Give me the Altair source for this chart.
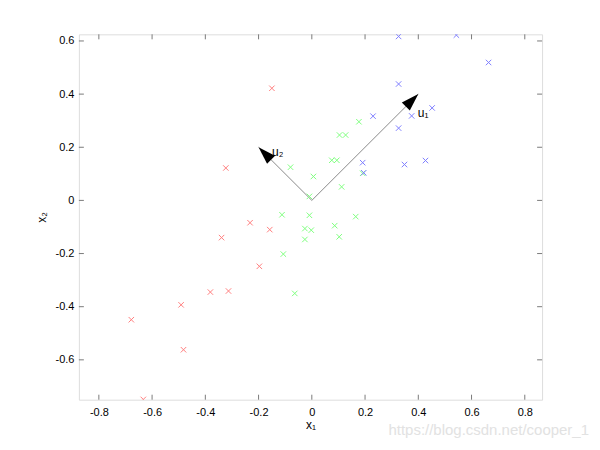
import altair as alt
import pandas as pd

# ---- data ----
red_x = [-0.150, -0.323, -0.232, -0.158, -0.339, -0.197, -0.381, -0.313, -0.491, -0.678, -0.482, -0.633]
red_y = [0.422, 0.122, -0.084, -0.110, -0.140, -0.248, -0.345, -0.341, -0.393, -0.449, -0.562, -0.749]

green_x = [-0.080, 0.006, -0.009, 0.112, 0.075, 0.094, 0.104, 0.127, 0.177, 0.191,
           -0.112, -0.009, -0.026, -0.002, -0.026, -0.107, -0.064, 0.086, 0.165, 0.103]
green_y = [0.125, 0.090, 0.015, 0.051, 0.151, 0.151, 0.246, 0.246, 0.296, 0.102,
           -0.054, -0.056, -0.106, -0.112, -0.147, -0.202, -0.350, -0.095, -0.061, -0.137]

blue_x = [0.326, 0.543, 0.664, 0.326, 0.452, 0.375, 0.230, 0.326, 0.191, 0.195, 0.348, 0.427]
blue_y = [0.617, 0.622, 0.519, 0.438, 0.348, 0.318, 0.317, 0.272, 0.142, 0.104, 0.135, 0.150]

vec_names = ["u1", "u2"]
vec_x = [0.40, -0.20]
vec_y = [0.40, 0.20]
vec_angle = [45, 315]
vec_label = ["u\u2081", "u\u2082"]
label_x = [0.418, -0.128]
label_y = [0.330, 0.182]

x_ticks = [-0.8, -0.6, -0.4, -0.2, 0.0, 0.2, 0.4, 0.6, 0.8]
y_ticks = [-0.6, -0.4, -0.2, 0.0, 0.2, 0.4, 0.6]

X_DOMAIN = [-0.875, 0.865]
Y_DOMAIN = [-0.75, 0.625]
W, H = 464, 366

pts = pd.concat([
    pd.DataFrame({"x": red_x, "y": red_y, "cls": "red"}),
    pd.DataFrame({"x": green_x, "y": green_y, "cls": "green"}),
    pd.DataFrame({"x": blue_x, "y": blue_y, "cls": "blue"}),
], ignore_index=True)

vecs = pd.DataFrame({"name": vec_names, "x0": 0.0, "y0": 0.0, "x": vec_x, "y": vec_y,
                     "angle": vec_angle, "label": vec_label, "lx": label_x, "ly": label_y})

FONT = "Liberation Sans"
lab_expr = "replace(format(datum.value, '~g'), '\u2212', '-')"

xs = alt.Scale(domain=X_DOMAIN, nice=False, zero=False)
ys = alt.Scale(domain=Y_DOMAIN, nice=False, zero=False)

x_axis = alt.Axis(values=x_ticks, ticks=False, domain=False, grid=False, labelExpr=lab_expr,
                  labelFont=FONT, labelFontSize=11, labelColor="black", labelPadding=7,
                  title="x\u2081", titleFont=FONT, titleFontSize=12, titleFontWeight="normal",
                  titleColor="black", titlePadding=2)
y_axis = alt.Axis(values=y_ticks, ticks=False, domain=False, grid=False, labelExpr=lab_expr,
                  labelFont=FONT, labelFontSize=11, labelColor="black", labelPadding=5,
                  title="x\u2082", titleFont=FONT, titleFontSize=12, titleFontWeight="normal",
                  titleColor="black", titlePadding=6)

points = alt.Chart(pts).mark_point(
    shape="M-1,-1L1,1M1,-1L-1,1", size=30, filled=False, strokeWidth=1, opacity=1, clip=True
).encode(
    x=alt.X("x:Q", scale=xs, axis=x_axis),
    y=alt.Y("y:Q", scale=ys, axis=y_axis),
    color=alt.Color("cls:N", scale=alt.Scale(domain=["red", "green", "blue"],
                                            range=["#ff7f7f", "#7fff7f", "#7f7fff"]), legend=None),
)

shafts = alt.Chart(vecs).mark_rule(color="#8a8a8a", strokeWidth=1).encode(
    x=alt.X("x0:Q", scale=xs), y=alt.Y("y0:Q", scale=ys), x2="x:Q", y2="y:Q"
)

heads = alt.Chart(vecs).mark_point(
    shape="M0,0L0.32,1L-0.32,1Z", size=1250, filled=True, color="black", opacity=1, strokeWidth=0
).encode(
    x=alt.X("x:Q", scale=xs), y=alt.Y("y:Q", scale=ys), angle=alt.Angle("angle:Q", scale=None)
)

labels = alt.Chart(vecs).mark_text(font=FONT, fontSize=12, color="black", align="center",
                                   baseline="middle").encode(
    x=alt.X("lx:Q", scale=xs), y=alt.Y("ly:Q", scale=ys), text="label:N"
)

# inward ticks on all four sides
xt = pd.DataFrame({"v": x_ticks})
yt = pd.DataFrame({"v": y_ticks})
tick_col = "#7a7a7a"
xt_bottom = alt.Chart(xt).mark_rule(color=tick_col).encode(
    x=alt.X("v:Q", scale=xs), y=alt.value(H), y2=alt.value(H - 5))
xt_top = alt.Chart(xt).mark_rule(color=tick_col).encode(
    x=alt.X("v:Q", scale=xs), y=alt.value(0), y2=alt.value(5))
yt_left = alt.Chart(yt).mark_rule(color=tick_col).encode(
    y=alt.Y("v:Q", scale=ys), x=alt.value(0), x2=alt.value(5))
yt_right = alt.Chart(yt).mark_rule(color=tick_col).encode(
    y=alt.Y("v:Q", scale=ys), x=alt.value(W), x2=alt.value(W - 5))

watermark = alt.Chart(pd.DataFrame({"t": ["https://blog.csdn.net/cooper_1"]})).mark_text(
    font=FONT, fontSize=15, color="#e2e2e2", align="right", baseline="middle"
).encode(x=alt.value(511), y=alt.value(396), text="t:N")

chart = alt.layer(
    xt_bottom, xt_top, yt_left, yt_right, shafts, heads, labels, points, watermark
).properties(
    width=W, height=H,
    autosize=alt.AutoSizeParams(type="none"),
    padding={"left": 71, "top": 26, "right": 50, "bottom": 40},
).configure_view(
    stroke="#7a7a7a", strokeWidth=1
).configure(background="white")

chart.save("out.html", embed_options={"renderer": "svg", "actions": False})
